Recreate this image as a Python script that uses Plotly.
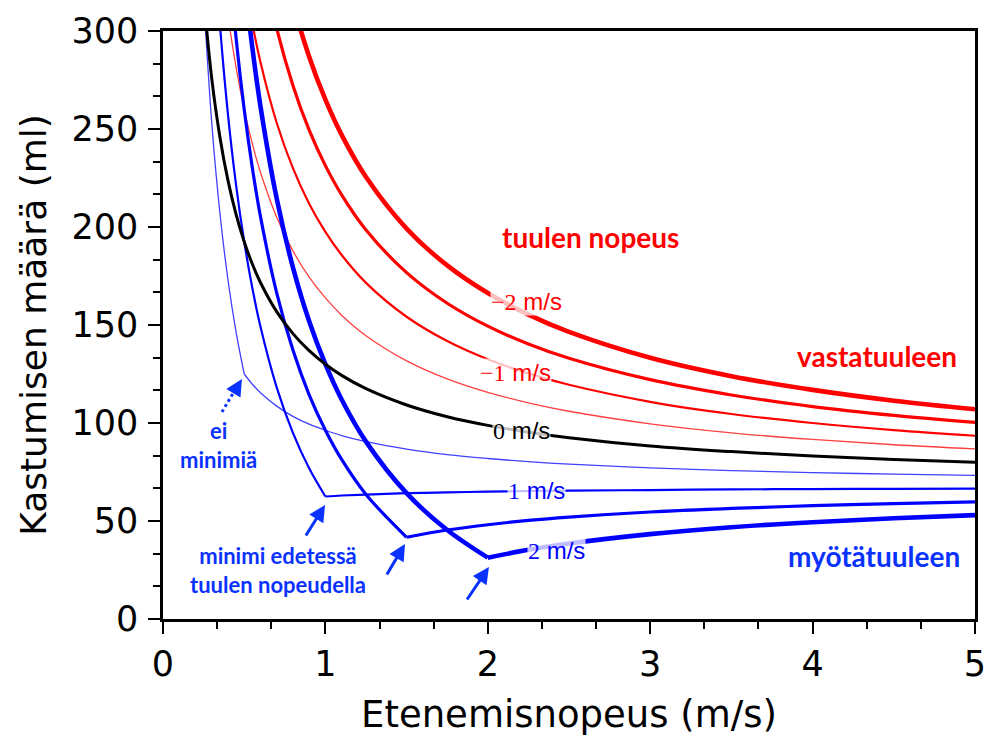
import plotly.graph_objects as go

# etenemisnopeus (m/s)
speed = [0.25, 0.3, 0.35, 0.4, 0.45, 0.5, 0.55, 0.6, 0.7, 0.8, 0.9, 1.0, 1.1, 1.25,
         1.5, 1.75, 2.0, 2.25, 2.5, 3.0, 3.5, 4.0, 4.5, 5.0]

# vastatuuleen (punaiset)
head_2 = [857.5, 725.8, 631.8, 561.3, 506.4, 462.5, 426.6, 396.7, 349.6, 314.4, 286.9, 265.0,
          247.0, 225.5, 199.2, 180.4, 166.3, 155.3, 146.5, 133.3, 123.9, 116.9, 111.4, 107.0]
head_15 = [722.5, 613.3, 535.4, 476.9, 431.4, 395.0, 365.2, 340.4, 301.4, 272.2, 249.4, 231.3,
           216.4, 198.5, 176.7, 161.1, 149.4, 140.3, 133.0, 122.1, 114.3, 108.4, 103.9, 100.3]
head_1 = [587.5, 500.8, 438.9, 392.5, 356.4, 327.5, 303.9, 284.2, 253.2, 230.0, 211.9, 197.5,
          185.7, 171.5, 154.2, 141.8, 132.5, 125.3, 119.5, 110.8, 104.6, 100.0, 96.4, 93.5]
head_05 = [452.5, 388.3, 342.5, 308.1, 281.4, 260.0, 242.5, 227.9, 205.0, 187.8, 174.4, 163.8,
           155.0, 144.5, 131.7, 122.5, 115.6, 110.3, 106.0, 99.6, 95.0, 91.6, 88.9, 86.8]
# tyyntä
calm = [317.5, 275.8, 246.1, 223.8, 206.4, 192.5, 181.1, 171.7, 156.8, 145.6, 136.9, 130.0,
        124.3, 117.5, 109.2, 103.2, 98.8, 95.3, 92.5, 88.3, 85.4, 83.1, 81.4, 80.0]
# myötätuuleen (siniset)
tail_05 = [317.5, 253.3, 207.5, 173.1, 146.4, 125.0, 119.8, 115.4, 108.6, 103.4, 99.4, 96.3,
           93.6, 90.5, 86.7, 83.9, 81.9, 80.3, 79.0, 77.1, 75.7, 74.7, 73.9, 73.3]
tail_1 = [452.5, 365.8, 303.9, 257.5, 221.4, 192.5, 168.9, 149.2, 118.2, 95.0, 76.9, 62.5,
          63.0, 63.5, 64.2, 64.6, 65.0, 65.3, 65.5, 65.8, 66.1, 66.3, 66.4, 66.5]
tail_15 = [587.5, 478.3, 400.4, 341.9, 296.4, 260.0, 230.2, 205.4, 166.4, 137.2, 114.4, 96.3,
           81.4, 63.5, 41.7, 45.4, 48.1, 50.3, 52.0, 54.6, 56.4, 57.8, 58.9, 59.8]
tail_2 = [722.5, 590.8, 496.8, 426.3, 371.4, 327.5, 291.6, 261.7, 214.6, 179.4, 151.9, 130.0,
          112.0, 90.5, 64.2, 45.4, 31.3, 35.3, 38.5, 43.3, 46.8, 49.4, 51.4, 53.0]

RED = '#ff0000'
BLUE = '#0000ff'
TXT_BLUE = '#0a32ff'

fig = go.Figure()

def add_curve(ys, color, width, kink=None):
    # kink = tuulen nopeus, jossa käyrä taittuu
    if kink is None:
        parts = [(0, len(speed))]
    else:
        k = speed.index(kink)
        parts = [(0, k + 1), (k, len(speed))]
    for a, b in parts:
        fig.add_trace(go.Scatter(x=speed[a:b], y=ys[a:b], mode='lines', line_shape='spline',
                                 line=dict(color=color, width=width), showlegend=False,
                                 hoverinfo='skip'))

add_curve(head_05, 'rgba(255,0,0,0.75)', 1.3)
add_curve(head_1, RED, 2.2)
add_curve(head_15, RED, 3.2)
add_curve(head_2, RED, 4.6)
add_curve(tail_05, 'rgba(0,0,255,0.75)', 1.3, 0.5)
add_curve(tail_1, BLUE, 2.2, 1.0)
add_curve(tail_15, BLUE, 3.2, 1.5)
add_curve(tail_2, BLUE, 4.6, 2.0)
add_curve(calm, 'black', 3)

# käyrien nimiöt
def line_label(x, y, num, color):
    fig.add_annotation(x=x, y=y, showarrow=False,
                       text='<span style="font-family:Liberation Serif">%s</span> m/s' % num,
                       font=dict(family='Liberation Sans', size=24, color=color),
                       bgcolor='rgba(255,255,255,0.75)', borderpad=0)

line_label(2.24, 162, '\u22122', RED)
line_label(2.17, 126, '\u22121', RED)
line_label(2.21, 96.4, '0', 'black')
line_label(2.30, 65.8, '1', BLUE)
line_label(2.42, 35.2, '2', BLUE)

tf = 'Lato'
fig.add_annotation(x=2.63, y=195, text='tuulen nopeus', showarrow=False,
                   font=dict(family=tf, size=28, color=RED, weight='bold'))
fig.add_annotation(x=4.9, y=134, text='vastatuuleen', showarrow=False, xanchor='right',
                   font=dict(family=tf, size=28, color=RED, weight='bold'))
fig.add_annotation(x=4.92, y=32, text='myötätuuleen', showarrow=False, xanchor='right',
                   font=dict(family=tf, size=28, color=TXT_BLUE, weight='bold'))
fig.add_annotation(x=0.34, y=89, text='ei<br>minimiä', showarrow=False,
                   font=dict(family=tf, size=22, color=TXT_BLUE, weight='bold'))
fig.add_annotation(x=0.71, y=25, text='minimi edetessä<br>tuulen nopeudella', showarrow=False,
                   font=dict(family=tf, size=22, color=TXT_BLUE, weight='bold'))

# nuolet minimikohtiin
for hx, hy, tx, ty in [(0.998, 58.2, 0.874, 41.8), (1.49, 38.3, 1.373, 21.9),
                       (2.007, 26.5, 1.866, 9.2)]:
    fig.add_annotation(x=hx, y=hy, ax=tx, ay=ty, axref='x', ayref='y', text='',
                       showarrow=True, arrowhead=2, arrowsize=1.1, arrowwidth=3,
                       arrowcolor=TXT_BLUE)
# pisteviiva-nuoli
fig.add_shape(type='line', x0=0.363, y0=105.6, x1=0.443, y1=116.8,
              line=dict(color=TXT_BLUE, width=3, dash='dot'))
fig.add_annotation(x=0.486, y=122.4, ax=-6, ay=10, text='', showarrow=True,
                   arrowhead=2, arrowsize=1.1, arrowwidth=3, arrowcolor=TXT_BLUE)

tick_font = dict(family='DejaVu Sans', size=35, color='black')
fig.update_xaxes(range=[0, 5], dtick=1, showline=True, mirror=True, linecolor='black',
                 linewidth=2.5, ticks='outside', ticklen=12, tickwidth=2, tickcolor='black',
                 minor=dict(dtick=1/3, ticks='outside', ticklen=7, tickwidth=2, tickcolor='black'),
                 showgrid=False, zeroline=False, tickfont=tick_font, automargin=False,
                 title=dict(text='Etenemisnopeus (m/s)', standoff=19,
                            font=dict(family='DejaVu Sans', size=37, color='black')))
fig.update_yaxes(range=[0, 300], dtick=50, showline=True, mirror=True, linecolor='black',
                 linewidth=2.5, ticks='outside', ticklen=12, tickwidth=2, tickcolor='black',
                 minor=dict(dtick=50/3, ticks='outside', ticklen=7, tickwidth=2, tickcolor='black'),
                 showgrid=False, zeroline=False, tickfont=tick_font, automargin=False,
                 ticklabelstandoff=3,
                 title=dict(text='Kastumisen määrä (ml)', standoff=14,
                            font=dict(family='DejaVu Sans', size=36, color='black')))
# sivun oletusmarginaali (8 px) huomioitu koossa
fig.update_layout(width=995, height=732, plot_bgcolor='white', paper_bgcolor='white',
                  margin=dict(l=155, r=28, t=23, b=121))

fig.write_html("out.html")
